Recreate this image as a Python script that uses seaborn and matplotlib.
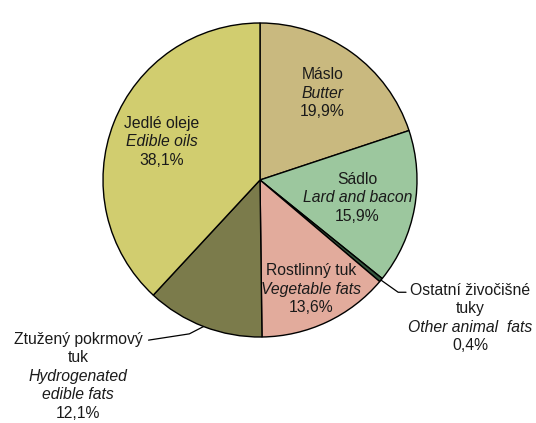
import numpy as np
import seaborn as sns
import matplotlib.pyplot as plt

# shares of fat consumption, clockwise from 12 o'clock
names_cz = ["Máslo", "Sádlo", "Ostatní živočišné\ntuky", "Rostlinný tuk",
            "Ztužený pokrmový\ntuk", "Jedlé oleje"]
names_en = ["Butter", "Lard and bacon", "Other animal  fats", "Vegetable fats",
            "Hydrogenated\nedible fats", "Edible oils"]
shares = [19.9, 15.9, 0.4, 13.6, 12.1, 38.1]
colors = ["#c9b97f", "#9cc79e", "#34553c", "#e2ab9c", "#7b7b4b", "#d1cd6f"]

sns.set_style("white")
plt.rcParams["font.family"] = ["Liberation Sans", "DejaVu Sans"]

fs = 11.3
lh = 13.3  # line height in points

fig = plt.figure(figsize=(5.36, 4.23), dpi=100)
lim = 1.03
r_px = 157
ax = fig.add_axes([(260 - r_px * lim) / 536, (423 - 180 - r_px * lim) / 423,
                   2 * r_px * lim / 536, 2 * r_px * lim / 423])
wedges, _ = ax.pie(shares, colors=colors, startangle=90, counterclock=False,
                   wedgeprops=dict(edgecolor="black", linewidth=1.0))
ax.set_xlim(-lim, lim)
ax.set_ylim(-lim, lim)
ax.set_aspect("equal")
ax.axis("off")


def label(x, y, lines):
    n = len(lines)
    for i, (t, st) in enumerate(lines):
        ax.annotate(t, (x, y), xytext=(0, ((n - 1) / 2 - i) * lh),
                    textcoords="offset points", ha="center", va="center",
                    style=st, fontsize=fs, color="#1a1a1a",
                    annotation_clip=False)


def split(i):
    out = [(s, "normal") for s in names_cz[i].split("\n")]
    out += [(s, "italic") for s in names_en[i].split("\n")]
    out.append((f"{shares[i]:.1f}%".replace(".", ","), "normal"))
    return out


mids = [(w.theta1 + w.theta2) / 2 for w in wedges]
inside = {0: 0.68, 1: 0.63, 3: 0.77, 5: 0.67}
for i, rf in inside.items():
    a = np.deg2rad(mids[i])
    label(rf * np.cos(a), rf * np.sin(a), split(i))

# outside labels with leader lines
a = np.deg2rad(mids[2])
ex, ey = np.cos(a), np.sin(a)
ax.plot([ex, 0.88, 0.93], [ey, -0.715, -0.715], color="black", lw=0.9, clip_on=False)
label(1.34, -0.88, split(2))

a = np.deg2rad(mids[4])
ex, ey = np.cos(a), np.sin(a)
ax.plot([ex, -0.45, -0.71], [ey, -0.98, -1.02], color="black", lw=0.9, clip_on=False)
label(-1.16, -1.25, split(4))

fig.savefig("out.png", dpi=100)
